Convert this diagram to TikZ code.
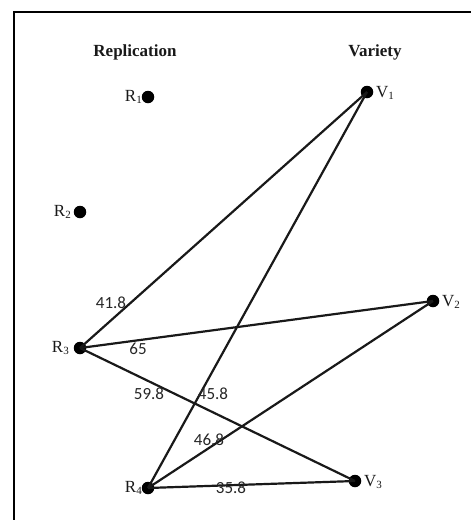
\documentclass[tikz,border=0pt]{standalone}
\usepackage{fontspec}
\setmainfont{Liberation Serif}
\newfontfamily\numfont{Carlito}
\newcommand{\sbs}[1]{\raisebox{-1.5pt}{\fontsize{11}{11}\selectfont #1}}
\begin{document}
\begin{tikzpicture}[x=1pt,y=-1pt,
  dot/.style={circle,fill=black,inner sep=0pt,minimum size=12.5pt},
  vlab/.style={font=\fontsize{17}{17}\selectfont,inner sep=0pt,text=black!90},
  title/.style={font=\fontsize{17}{17}\selectfont\bfseries,inner sep=0pt,text=black!90},
  wlab/.style={font=\numfont\fontsize{17}{17}\selectfont,inner sep=0pt,text=black!85},
  edge/.style={line width=2.2pt,black!90}]
\useasboundingbox (0,0) rectangle (471,520);
\draw[line width=2.6pt] (14,520) -- (14,12) -- (471,12);
\node[title] (tr) at (135,52) {Replication};
\node[title] (tv) at (375,52) {Variety};
\node[dot] (R1) at (148,97) {};
\node[dot] (R2) at (80,212) {};
\node[dot] (R3) at (80,348) {};
\node[dot] (R4) at (148,488) {};
\node[dot] (V1) at (367,92) {};
\node[dot] (V2) at (433,301) {};
\node[dot] (V3) at (355,481) {};
\node[vlab,anchor=east] (lR1) at (142,97) {R\sbs{1}};
\node[vlab,anchor=east] (lR2) at (71,212) {R\sbs{2}};
\node[vlab,anchor=east] (lR3) at (69,348) {R\sbs{3}};
\node[vlab,anchor=east] (lR4) at (142,488) {R\sbs{4}};
\node[vlab,anchor=west] (lV1) at (376,93) {V\sbs{1}};
\node[vlab,anchor=west] (lV2) at (442,302) {V\sbs{2}};
\node[vlab,anchor=west] (lV3) at (364,482) {V\sbs{3}};
\draw[edge] (R3.center) -- (V1.center);
\draw[edge] (R3.center) -- (V2.center);
\draw[edge] (R3.center) -- (V3.center);
\draw[edge] (R4.center) -- (V1.center);
\draw[edge] (R4.center) -- (V2.center);
\draw[edge] (R4.center) -- (V3.center);
\node[wlab] (w1) at (111,303) {41.8};
\node[wlab] (w2) at (138,349) {65};
\node[wlab] (w3) at (149,394) {59.8};
\node[wlab] (w4) at (213,394) {45.8};
\node[wlab] (w5) at (209,440) {46.8};
\node[wlab] (w6) at (231,488) {35.8};
\end{tikzpicture}
\end{document}
